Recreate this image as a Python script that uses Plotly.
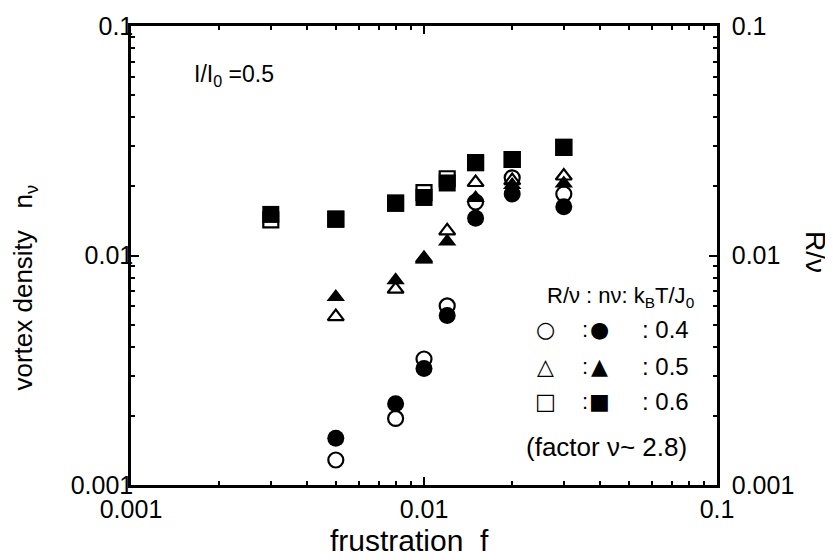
import plotly.graph_objects as go

# ---- data ----
f_circ = [0.005, 0.008, 0.01, 0.012, 0.015, 0.02, 0.03]
nv_04 = [0.00160, 0.00226, 0.00322, 0.00548, 0.01452, 0.01854, 0.01632]   # filled circles
rv_04 = [0.001285, 0.00195, 0.00354, 0.00603, 0.0171, 0.0218, 0.01854]    # open circles

f_tri = [0.005, 0.008, 0.01, 0.012, 0.015, 0.02, 0.03]
nv_05 = [0.0066, 0.0078, 0.0096, 0.0115, 0.0178, 0.0203, 0.0206]          # filled triangles
rv_05 = [0.00542, 0.00713, 0.0097, 0.0128, 0.0208, 0.0212, 0.0222]        # open triangles

f_sq = [0.003, 0.005, 0.008, 0.01, 0.012, 0.015, 0.02, 0.03]
nv_06 = [0.0151, 0.0144, 0.0169, 0.0179, 0.0207, 0.0254, 0.0262, 0.0296]  # filled squares
rv_06 = [0.0143, 0.0144, 0.0169, 0.0188, 0.0216, 0.0254, 0.0262, 0.0296]  # open squares

major_vals = [0.001, 0.01, 0.1]
major_text = ["0.001", "0.01", "0.1"]
minor_vals = [m * d for d in [0.001, 0.01] for m in range(2, 10)]

FONT = "Liberation Sans"
SYM = "DejaVu Sans"

fig = go.Figure()

def add(x, y, sym, size, opn):
    if opn:
        marker = dict(symbol=sym + "-open", size=size, color="black",
                      line=dict(color="black", width=2.2))
    else:
        marker = dict(symbol=sym, size=size, color="black", line=dict(width=0))
    fig.add_trace(go.Scatter(x=x, y=y, mode="markers", marker=marker,
                             showlegend=False, hoverinfo="skip"))

add(f_circ, rv_04, "circle", 15, True)
add(f_tri, rv_05, "triangle-up", 14, True)
add(f_sq, rv_06, "square", 15, True)
add(f_circ, nv_04, "circle", 17, False)
add(f_tri, nv_05, "triangle-up", 16, False)
add(f_sq, nv_06, "square", 17, False)

# invisible trace to activate right-hand axis
fig.add_trace(go.Scatter(x=[f_sq[0]], y=[nv_06[0]], yaxis="y2", mode="markers",
                         marker=dict(opacity=0), showlegend=False, hoverinfo="skip"))

axis_common = dict(
    type="log", range=[-3, -1], showgrid=False, zeroline=False,
    showline=True, linecolor="black", linewidth=2.5,
    ticks="inside", ticklen=8, tickwidth=2, tickcolor="black",
    tickvals=major_vals, ticktext=major_text,
    tickfont=dict(family=FONT, size=25, color="black"),
    minor=dict(ticks="inside", ticklen=4, tickwidth=2, tickcolor="black",
               tickvals=minor_vals, showgrid=False),
)

# the page body adds an 8px offset, so the figure is 8px smaller and margins shifted
fig.update_layout(
    width=825, height=552,
    margin=dict(l=123, r=116, t=18, b=75, autoexpand=False),
    paper_bgcolor="white", plot_bgcolor="white",
    font=dict(family=FONT, color="black"),
    xaxis=dict(**axis_common, mirror="ticks", ticklabelstandoff=0),
    yaxis=dict(**axis_common, mirror=False, ticklabelstandoff=-10),
    yaxis2=dict(**axis_common, overlaying="y", side="right", ticklabelstandoff=7),
)

def ann(text, x, y, size=20, xanchor="left", yanchor="middle", angle=0, family=FONT):
    fig.add_annotation(text=text, x=x, y=y, xref="paper", yref="paper",
                       xanchor=xanchor, yanchor=yanchor, showarrow=False,
                       textangle=angle, font=dict(family=family, size=size, color="black"))

# axis titles
ann("frustration  f", 0.476, -0.122, size=30, xanchor="center")
ann("vortex density   n<sub>ν</sub>", -0.181, 0.43, size=26, xanchor="center", angle=-90)
ann("R/ν", 1.167, 0.508, size=28, xanchor="center", angle=90)

# inside texts
ann("I/I<sub>0</sub> =0.5", 0.104, 0.893, size=23)
ann("R/ν : nν: k<sub>B</sub>T/J<sub>0</sub>", 0.707, 0.41, size=22)
rows = [("○", "●", ": 0.4", 0.338), ("△", "▲", ": 0.5", 0.259), ("□", "■", ": 0.6", 0.181)]
for o, fsym, lab, yy in rows:
    ann(o, 0.708, yy, size=22, xanchor="center", family=SYM)
    ann(":", 0.775, yy, size=22, xanchor="center")
    ann(fsym, 0.800, yy, size=22, xanchor="center", family=SYM)
    ann(lab, 0.869, yy, size=24)
ann("(factor ν~ 2.8)", 0.67, 0.083, size=26)

fig.write_html("out.html")
